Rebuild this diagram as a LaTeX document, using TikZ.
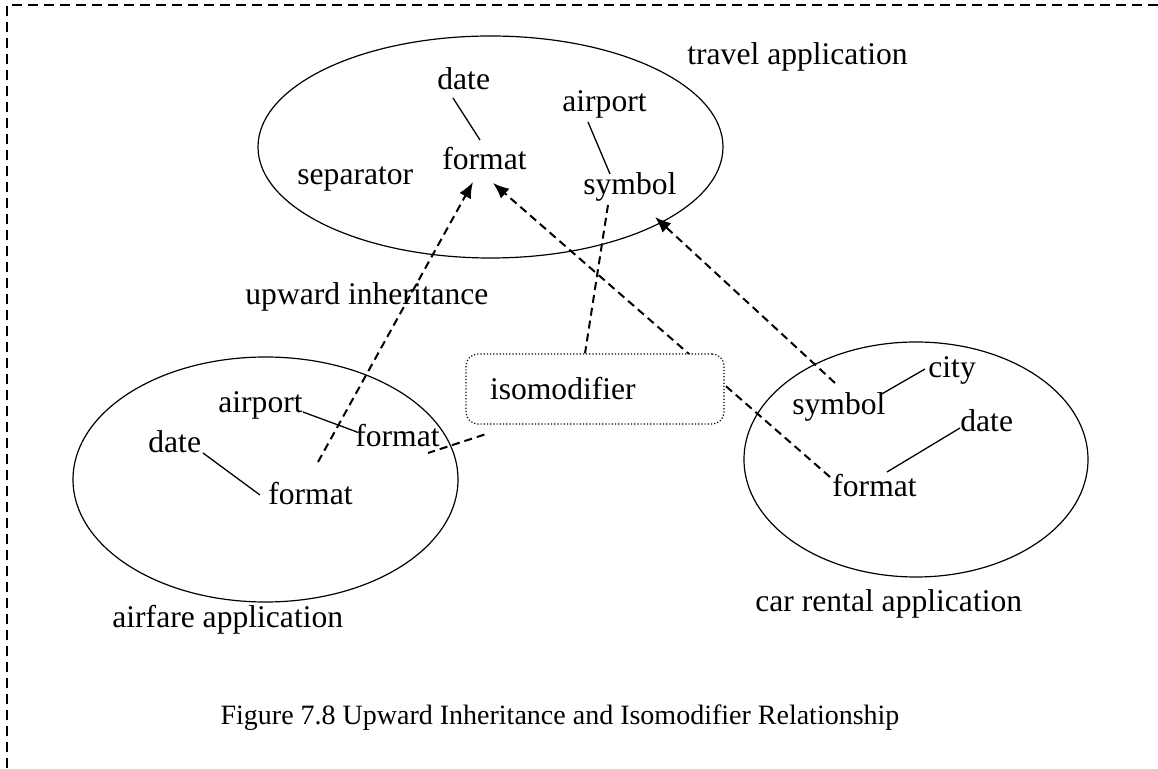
\documentclass[tikz,border=0pt]{standalone}
\usepackage{fontspec}
\setmainfont{Liberation Serif}
\usetikzlibrary{calc,arrows.meta}

\begin{document}
\begin{tikzpicture}[x=0.5pt, y=-0.5pt, >={Latex[length=8pt,width=6.5pt]},
    font=\fontsize{15.8}{19}\selectfont,
    word/.style={inner sep=0pt, anchor=base west},
    app/.style={line width=0.6pt},
    link/.style={line width=0.65pt},
    inherit/.style={line width=1pt, dash pattern=on 4pt off 2.5pt},
    isobox/.style={draw, densely dotted, line width=0.6pt, rounded corners=6pt, fill=white,
        minimum width=129pt, minimum height=35pt, inner xsep=12pt, text width=105pt, align=left}]
    \useasboundingbox (0,0) rectangle (1158,769);
    \draw[line width=1pt, dash pattern=on 5pt off 3pt] (1158,5) -- (7,5) -- (7,769);

    \draw[app] (490.5,147) ellipse [x radius=232.5, y radius=111];
    \draw[app] (265.5,479.5) ellipse [x radius=192.5, y radius=122.5];
    \draw[app] (916,459.5) ellipse [x radius=172, y radius=117.5];

    \node (tDate) [word] at (437,90) {date};
    \node (tFormat) [word] at (442,170) {format};
    \node (tSep) [word] at (297,185) {separator};
    \node (tAirport) [word] at (562,112) {airport};
    \node (tSymbol) [word] at (583,195) {symbol};

    \node (aAirport) [word] at (218,413) {airport};
    \node (aFormat2) [word] at (355,447) {format};
    \node (aDate) [word] at (148,453) {date};
    \node (aFormat) [word] at (268,505) {format};

    \node (cSymbol) [word] at (792,415) {symbol};
    \node (cCity) [word] at (928,378) {city};
    \node (cDate) [word] at (960,432) {date};
    \node (cFormat) [word] at (832,497) {format};

    \node (travelLbl) [word] at (687,65) {travel application};
    \node (upwardLbl) [word] at (245,305) {upward inheritance};
    \node (airfareLbl) [word] at (112,628) {airfare application};
    \node (carLbl) [word] at (755,612) {car rental application};
    \node (caption) [anchor=base, font=\fontsize{14}{17}\selectfont] at (560,725) {Figure 7.8 Upward Inheritance and Isomodifier Relationship};

    \draw[link] ($(tDate.base west)+(16,8)$) -- ($(tFormat.base west)+(38,-30)$);
    \draw[link] ($(tAirport.base west)+(26,10)$) -- ($(tSymbol.base west)+(27,-21)$);
    \draw[link] ($(aAirport.base west)+(85,-1)$) -- ($(aFormat2.base west)+(2,-15)$);
    \draw[link] ($(aDate.base west)+(55,0)$) -- ($(aFormat.base west)+(-8,-10)$);
    \draw[link] ($(cSymbol.base west)+(88,-20)$) -- ($(cCity.base west)+(-3,-9)$);
    \draw[link] ($(cDate.base west)+(0,-4)$) -- ($(cFormat.base west)+(55,-25)$);

    \draw[inherit,->] ($(aFormat.base west)+(50,-43)$) -- ($(tFormat.base west)+(31,12)$);
    \draw[inherit,->] ($(cFormat.base west)+(-2,-20)$) -- ($(tFormat.base west)+(51,13)$);
    \node (iso) [isobox] at (595,389) {isomodifier};
    \draw[inherit,->] ($(cSymbol.base west)+(43,-32)$) -- ($(tSymbol.base west)+(72,22)$);
    \draw[inherit] ($(tSymbol.base west)+(25,10)$) -- ($(iso.north)+(-10,0)$);
    \draw[inherit] ($(iso.south west)+(19,10)$) -- ($(aFormat2.base west)+(73,6)$);
\end{tikzpicture}
\end{document}
